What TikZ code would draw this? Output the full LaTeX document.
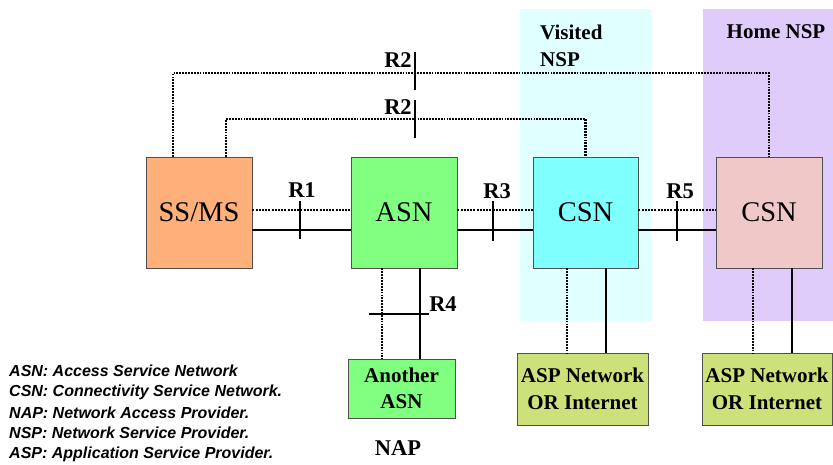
\documentclass[tikz,border=0pt]{standalone}
\usepackage{fontspec}
\setmainfont{Liberation Serif}
\newfontfamily\legendfont{Liberation Sans}
\definecolor{ssc}{HTML}{FFB07A}
\definecolor{asnc}{HTML}{80FF80}
\definecolor{csnv}{HTML}{80FFFF}
\definecolor{csnh}{HTML}{F0C8C8}
\definecolor{visbg}{HTML}{E0FFFF}
\definecolor{homebg}{HTML}{E0CCFB}
\definecolor{aspc}{HTML}{CDE17B}
\definecolor{edge}{HTML}{505050}
\begin{document}
\begin{tikzpicture}[x=1pt,y=-1pt,
  box/.style={draw=edge, line width=0.8pt, inner sep=0pt, align=center},
  bigtxt/.style={font=\fontsize{28.5}{30}\selectfont},
  smalltxt/.style={font=\fontsize{21}{26.5}\selectfont\bfseries},
  lab/.style={font=\fontsize{22.5}{24}\selectfont\bfseries, inner sep=0pt},
  nsplab/.style={font=\fontsize{21}{24}\selectfont\bfseries, inner sep=0pt},
  thickdot/.style={line width=2.7pt, dash pattern=on 1.8pt off 1.1pt},
  thindot/.style={line width=1.3pt, dash pattern=on 2pt off 1.2pt},
  solidline/.style={line width=2pt},
  tickline/.style={line width=2.5pt},
  legend/.style={anchor=west, inner sep=0pt, font=\legendfont\bfseries\itshape\fontsize{16}{18}\selectfont}
]
\useasboundingbox (0,0) rectangle (833,464);
% NSP regions
\fill[visbg] (520,9) rectangle (651,321);
\fill[homebg] (703,9) rectangle (833,321);
\node[nsplab, anchor=west] (vis1) at (540,32) {Visited};
\node[nsplab, anchor=west] (vis2) at (540,60) {NSP};
\node[nsplab] (home) at (776,32) {Home NSP};
% boxes
\node[box, bigtxt, fill=ssc, minimum width=106pt, minimum height=111pt] (ss) at (199,212.5) {SS/MS};
\node[box, bigtxt, fill=asnc, minimum width=106pt, minimum height=111pt] (asn) at (404,212.5) {ASN};
\node[box, bigtxt, fill=csnv, minimum width=105pt, minimum height=111pt] (csnv) at (585.5,212.5) {CSN};
\node[box, bigtxt, fill=csnh, minimum width=106pt, minimum height=111pt] (csnh) at (769,212.5) {CSN};
\node[box, smalltxt, fill=asnc, minimum width=107pt, minimum height=59pt] (ano) at (401.5,388.5) {Another\\ASN};
\node[box, smalltxt, fill=aspc, minimum width=131pt, minimum height=72pt] (asp1) at (582.5,389) {ASP Network\\OR Internet};
\node[box, smalltxt, fill=aspc, minimum width=130pt, minimum height=72pt] (asp2) at (767,389) {ASP Network\\OR Internet};
\node[lab] (nap) at (398,448) {NAP};
% helper coordinates
\coordinate (y210) at (0,210);
\coordinate (y230) at (0,230);
\coordinate (o1) at (173,73);
\coordinate (i1) at (226,119);
\coordinate (x382) at (382,0);
\coordinate (x420) at (420,0);
\coordinate (x567) at (567,0);
\coordinate (x606) at (606,0);
\coordinate (x753) at (753,0);
\coordinate (x792) at (792,0);
% R2 links
\draw[thickdot] (ss.north -| o1) -- (o1) -| (csnh.north);
\draw[thickdot] (ss.north -| i1) -- (i1) -| (csnv.north);
% R1, R3, R5
\draw[thindot] (ss.east |- y210) -- (asn.west |- y210);
\draw[solidline] (ss.east |- y230) -- (asn.west |- y230);
\draw[thindot] (asn.east |- y210) -- (csnv.west |- y210);
\draw[solidline] (asn.east |- y230) -- (csnv.west |- y230);
\draw[thindot] (csnv.east |- y210) -- (csnh.west |- y210);
\draw[solidline] (csnv.east |- y230) -- (csnh.west |- y230);
% R4
\draw[thickdot] (asn.south -| x382) -- (ano.north -| x382);
\draw[solidline] (asn.south -| x420) -- (ano.north -| x420);
% CSN to ASP
\draw[thickdot] (csnv.south -| x567) -- (asp1.north -| x567);
\draw[solidline] (csnv.south -| x606) -- (asp1.north -| x606);
\draw[thickdot] (csnh.south -| x753) -- (asp2.north -| x753);
\draw[solidline] (csnh.south -| x792) -- (asp2.north -| x792);
% ticks
\coordinate (t1a) at (300,201); \coordinate (t1b) at (300,239);
\coordinate (t3a) at (493,201); \coordinate (t3b) at (493,241);
\coordinate (t5a) at (677,201); \coordinate (t5b) at (677,241);
\coordinate (t2a) at (415,52); \coordinate (t2b) at (415,90);
\coordinate (t2c) at (415,100); \coordinate (t2d) at (415,138);
\coordinate (t4a) at (369,314); \coordinate (t4b) at (429,314);
\draw[tickline] (t1a) -- (t1b);
\draw[tickline] (t3a) -- (t3b);
\draw[tickline] (t5a) -- (t5b);
\draw[line width=2pt] (t2a) -- (t2b);
\draw[line width=2pt] (t2c) -- (t2d);
\draw[line width=2pt] (t4a) -- (t4b);
% labels
\node[lab] (r1) at (302,190) {R1};
\node[lab] (r3) at (497,191) {R3};
\node[lab] (r5) at (680,191) {R5};
\node[lab] (r2a) at (398,60) {R2};
\node[lab] (r2b) at (398,107) {R2};
\node[lab] (r4) at (443,304) {R4};
% legend
\node[legend] (l1) at (9,371) {ASN: Access Service Network};
\node[legend] (l2) at (9,392) {CSN: Connectivity Service Network.};
\node[legend] (l3) at (9,413) {NAP: Network Access Provider.};
\node[legend] (l4) at (9,433) {NSP: Network Service Provider.};
\node[legend] (l5) at (9,454) {ASP: Application Service Provider.};
\end{tikzpicture}
\end{document}
